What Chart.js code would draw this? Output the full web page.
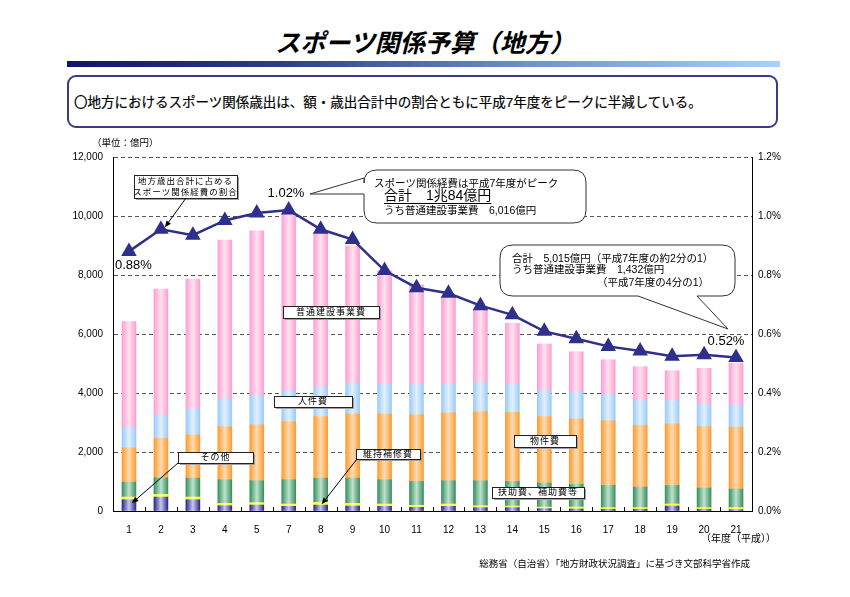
<!DOCTYPE html>
<html lang="ja">
<head>
<meta charset="utf-8">
<script src="https://cdn.jsdelivr.net/npm/chart.js@4.4.1/dist/chart.umd.min.js"></script>
<style>
  html, body { margin: 0; padding: 0; background: #fff; }
  #page { position: relative; width: 850px; height: 597px; overflow: hidden;
    font-family: "Liberation Sans", "Noto Sans CJK JP", sans-serif; color: #000; }
  #title { position: absolute; left: 0; top: 26px; width: 850px; text-align: center;
    font-size: 25px; font-style: italic; font-weight: bold; line-height: 34px; }
  #rule { position: absolute; left: 67px; top: 61px; width: 713px; height: 6px;
    background: linear-gradient(to right, #12126a 0%, #2c3f86 30%, #6d93c8 65%, #a6d2ff 100%); }
  #summary { position: absolute; left: 67px; top: 75px; width: 707px; height: 49px;
    border: 2px solid #3a3a86; border-radius: 9px; }
  #summaryText { position: absolute; left: 74px; top: 93px; font-size: 13.5px; line-height: 20px; white-space: nowrap;
    -webkit-text-stroke: 0.2px #000; }
  #chartBox { position: absolute; left: 0; top: 0; width: 850px; height: 597px; }
</style>
</head>
<body>
<div id="page">
  <div id="title">スポーツ関係予算（地方）</div>
  <div id="rule"></div>
  <div id="summary"></div>
  <div id="summaryText">〇地方におけるスポーツ関係歳出は、額・歳出合計中の割合ともに平成7年度をピークに半減している。</div>
  <div id="chartBox"><canvas id="chart" width="850" height="597"></canvas></div>
</div>
<script>
// 年度（平成）
const years = ["1", "2", "3", "4", "5", "7", "8", "9", "10", "11", "12", "13", "14", "15", "16", "17", "18", "19", "20", "21"];

// 億円, stacked from the bottom
const other = [383, 473, 383, 180, 203, 158, 200, 169, 158, 124, 158, 113, 113, 79, 68, 56, 56, 169, 56, 45];
const repair = [90, 90, 90, 79, 79, 79, 95, 90, 79, 68, 79, 67, 56, 56, 67, 57, 57, 68, 57, 70];
const aid = [507, 564, 643, 800, 744, 822, 820, 857, 822, 811, 789, 846, 834, 812, 767, 755, 698, 631, 665, 629];
const supplies = [1161, 1341, 1465, 1804, 1893, 1973, 2085, 2175, 2232, 2265, 2299, 2344, 2344, 2254, 2220, 2197, 2097, 2085, 2085, 2096];
const personnel = [699, 789, 879, 957, 992, 1036, 1014, 1059, 1014, 1015, 980, 991, 958, 901, 901, 880, 834, 789, 766, 743];
const construction = [3584, 4263, 4400, 5360, 5589, 6016, 5245, 4640, 3835, 3382, 2931, 2459, 2055, 1561, 1375, 1183, 1149, 1014, 1206, 1432];

// 地方歳出合計に占めるスポーツ関係経費の割合 (%)
const share = [0.88, 0.955, 0.935, 0.985, 1.01, 1.02, 0.955, 0.92, 0.815, 0.757, 0.738, 0.696, 0.665, 0.609, 0.584, 0.558, 0.542, 0.525, 0.53, 0.52];

const FONT = '"Liberation Sans", "Noto Sans CJK JP", sans-serif';
const BAR_W = 14;
const NAVY = "#2f2f8c";

function shaded(edge, mid) {
  return (c) => {
    const chart = c.chart;
    const xs = chart.scales && chart.scales.x;
    if (!xs || c.type !== "data") return edge;
    const cx = xs.getPixelForValue(c.dataIndex);
    if (!isFinite(cx)) return edge;
    const g = chart.ctx.createLinearGradient(cx - BAR_W / 2, 0, cx + BAR_W / 2, 0);
    g.addColorStop(0, edge);
    g.addColorStop(0.5, mid);
    g.addColorStop(1, edge);
    return g;
  };
}

function barSet(label, data, edge, mid) {
  return {
    type: "bar", label, data, yAxisID: "y", order: 1,
    backgroundColor: shaded(edge, mid), borderWidth: 0, barThickness: BAR_W
  };
}

function labelBox(ctx, x, y, w, h, lines, size) {
  ctx.save();
  ctx.fillStyle = "#a0a0a0";
  ctx.fillRect(x + 2, y + 2, w, h);
  ctx.fillStyle = "#fff";
  ctx.fillRect(x, y, w, h);
  ctx.strokeStyle = "#222";
  ctx.lineWidth = 1;
  ctx.strokeRect(x + 0.5, y + 0.5, w, h);
  ctx.fillStyle = "#000";
  ctx.font = `${size || 9}px ${FONT}`;
  ctx.letterSpacing = "1px";
  ctx.textAlign = "center";
  ctx.textBaseline = "middle";
  const lh = h / lines.length;
  lines.forEach((t, i) => ctx.fillText(t, x + w / 2, y + lh * (i + 0.5) + 0.5));
  ctx.restore();
}

function arrow(ctx, x1, y1, x2, y2) {
  const a = Math.atan2(y2 - y1, x2 - x1);
  ctx.save();
  ctx.strokeStyle = "#000";
  ctx.fillStyle = "#000";
  ctx.lineWidth = 1;
  ctx.beginPath();
  ctx.moveTo(x1, y1);
  ctx.lineTo(x2 - 5 * Math.cos(a), y2 - 5 * Math.sin(a));
  ctx.stroke();
  ctx.beginPath();
  ctx.moveTo(x2, y2);
  ctx.lineTo(x2 - 7 * Math.cos(a - 0.4), y2 - 7 * Math.sin(a - 0.4));
  ctx.lineTo(x2 - 7 * Math.cos(a + 0.4), y2 - 7 * Math.sin(a + 0.4));
  ctx.closePath();
  ctx.fill();
  ctx.restore();
}

// rounded callout; tail = {side: "left"|"bottom", a, b, tx, ty}
function bubble(ctx, x, y, w, h, r, tail) {
  ctx.save();
  ctx.beginPath();
  ctx.moveTo(x + r, y);
  ctx.lineTo(x + w - r, y);
  ctx.quadraticCurveTo(x + w, y, x + w, y + r);
  ctx.lineTo(x + w, y + h - r);
  ctx.quadraticCurveTo(x + w, y + h, x + w - r, y + h);
  if (tail.side === "bottom") {
    ctx.lineTo(tail.b, y + h);
    ctx.lineTo(tail.tx, tail.ty);
    ctx.lineTo(tail.a, y + h);
  }
  ctx.lineTo(x + r, y + h);
  ctx.quadraticCurveTo(x, y + h, x, y + h - r);
  if (tail.side === "left") {
    ctx.lineTo(x, tail.b);
    ctx.lineTo(tail.tx, tail.ty);
    ctx.lineTo(x, tail.a);
  }
  ctx.lineTo(x, y + r);
  ctx.quadraticCurveTo(x, y, x + r, y);
  ctx.closePath();
  ctx.fillStyle = "#fff";
  ctx.fill();
  ctx.strokeStyle = "#333";
  ctx.lineWidth = 1;
  ctx.stroke();
  ctx.restore();
}

function text(ctx, str, x, y, size, align, color) {
  ctx.save();
  ctx.font = `${size}px ${FONT}`;
  ctx.fillStyle = color || "#000";
  ctx.textAlign = align || "left";
  ctx.textBaseline = "middle";
  ctx.fillText(str, x, y);
  const w = ctx.measureText(str).width;
  ctx.restore();
  return w;
}

const notes = {
  id: "notes",
  afterDraw(chart) {
    const ctx = chart.ctx;
    const xs = chart.scales.x;
    const ys = chart.scales.y;
    const y1 = chart.scales.y1;
    const area = chart.chartArea;
    const step = (area.right - area.left) / years.length;

    // small inner ticks between categories
    ctx.save();
    ctx.strokeStyle = "#000";
    ctx.lineWidth = 1;
    ctx.beginPath();
    for (let i = 1; i < years.length; i++) {
      const px = Math.round(area.left + step * i) + 0.5;
      ctx.moveTo(px, area.bottom);
      ctx.lineTo(px, area.bottom - 4);
    }
    ctx.stroke();
    ctx.restore();

    text(ctx, "（単位：億円）", 92, 143, 9.5);
    text(ctx, "（年度（平成））", 776, 539, 10, "right");
    text(ctx, "総務省（自治省）「地方財政状況調査」に基づき文部科学省作成", 750, 564, 9.5, "right");

    // percentage labels
    text(ctx, "0.88%", 115, 265, 13);
    text(ctx, "1.02%", 286, 193, 13, "center");
    text(ctx, "0.52%", 726, 341, 13, "center");

    // share callout box + arrow
    labelBox(ctx, 134, 175, 103, 23, ["地方歳出合計に占める", "スポーツ関係経費の割合"], 8.5);
    arrow(ctx, 186, 198, xs.getPixelForValue(1) + 4, y1.getPixelForValue(share[1]) - 2);

    // category labels
    labelBox(ctx, 283, 306, 96, 12, ["普通建設事業費"]);
    labelBox(ctx, 274, 396, 78, 11, ["人件費"]);
    labelBox(ctx, 514, 435, 62, 12, ["物件費"]);
    labelBox(ctx, 492, 487, 92, 11, ["扶助費、補助費等"]);
    labelBox(ctx, 178, 452, 75, 11, ["その他"]);
    arrow(ctx, 178, 463, xs.getPixelForValue(0) + 3, ys.getPixelForValue(other[0] * 0.7));
    labelBox(ctx, 356, 449, 64, 10, ["維持補修費"]);
    arrow(ctx, 357, 459, xs.getPixelForValue(6) + 1, ys.getPixelForValue(other[6] + repair[6] * 0.3));

    // peak callout
    bubble(ctx, 364, 170, 222, 53, 13, { side: "left", a: 178, b: 194, tx: 310, ty: 194 });
    text(ctx, "スポーツ関係経費は平成7年度がピーク", 374, 184, 10.5);
    const w = text(ctx, "合計　1兆84億円", 384, 196, 14);
    ctx.save();
    ctx.strokeStyle = "#000";
    ctx.lineWidth = 1.2;
    ctx.beginPath();
    ctx.moveTo(384, 203.5);
    ctx.lineTo(384 + w, 203.5);
    ctx.stroke();
    ctx.restore();
    text(ctx, "うち普通建設事業費　6,016億円", 384, 211, 10.5);

    // latest callout
    bubble(ctx, 500, 245, 235, 51, 13, { side: "bottom", a: 638, b: 697, tx: 728, ty: 329 });
    text(ctx, "合計　5,015億円（平成7年度の約2分の1）", 512, 259, 10.5);
    text(ctx, "うち普通建設事業費　1,432億円", 512, 270.5, 10.5);
    text(ctx, "（平成7年度の4分の1）", 597, 283, 10.5);
  }
};

new Chart(document.getElementById("chart"), {
  data: {
    labels: years,
    datasets: [
      {
        type: "line", label: "割合", data: share, yAxisID: "y1", order: 0,
        borderColor: NAVY, borderWidth: 2.5, tension: 0,
        pointStyle: "triangle", pointRadius: 6.5, pointBackgroundColor: NAVY, pointBorderColor: NAVY
      },
      barSet("その他", other, "#2a2a86", "#c8c8ee"),
      barSet("維持補修費", repair, "#ffff00", "#ffffb0"),
      barSet("扶助費、補助費等", aid, "#3a9060", "#bfe2cc"),
      barSet("物件費", supplies, "#ff9a33", "#ffdcb0"),
      barSet("人件費", personnel, "#9ccbf8", "#e2f0ff"),
      barSet("普通建設事業費", construction, "#ff9fcf", "#ffe2f1")
    ]
  },
  options: {
    responsive: false,
    animation: false,
    events: [],
    layout: { padding: { left: 0, right: 0, top: 157, bottom: 60 } },
    plugins: { legend: { display: false }, tooltip: { enabled: false } },
    scales: {
      x: {
        stacked: true, offset: true,
        grid: { display: false },
        border: { display: true, color: "#000", width: 1 },
        ticks: { color: "#000", font: { family: FONT, size: 10 }, padding: 5, maxRotation: 0, autoSkip: false },
        afterFit: (s) => { s.height = 26; }
      },
      y: {
        stacked: true, min: 0, max: 12000,
        grid: { color: "#555", lineWidth: 1, drawTicks: false },
        border: { display: true, color: "#000", width: 1, dash: [4, 3] },
        ticks: {
          stepSize: 2000, color: "#000", padding: 10, font: { family: FONT, size: 10 },
          callback: (v) => v.toLocaleString("en-US")
        },
        afterFit: (s) => { s.width = 113; }
      },
      y1: {
        position: "right", min: 0, max: 1.2,
        grid: { display: false, drawTicks: false },
        border: { display: true, color: "#000", width: 1 },
        ticks: {
          stepSize: 0.2, color: "#000", padding: 6, font: { family: FONT, size: 10 },
          callback: (v) => v.toFixed(1) + "%"
        },
        afterFit: (s) => { s.width = 98; }
      }
    }
  },
  plugins: [notes]
});
</script>
</body>
</html>
